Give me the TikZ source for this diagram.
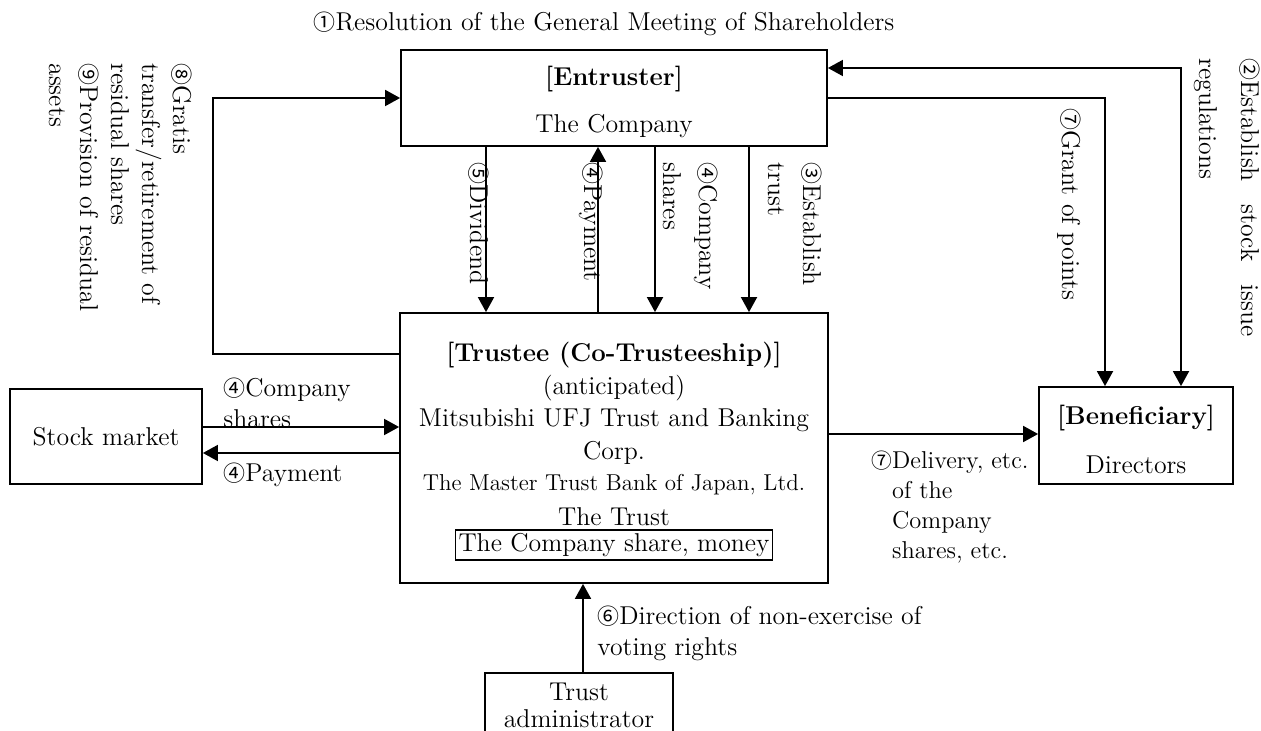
\documentclass[tikz,border=0pt]{standalone}
\usepackage{fontspec}
\newfontfamily\cjk[Scale=0.85]{Noto Sans CJK JP}
\usetikzlibrary{arrows.meta,fit}
\newcommand{\cn}[1]{{\cjk #1}}
\begin{document}
\begin{tikzpicture}[x=0.5pt,y=-0.5pt,
  every node/.style={font=\fontsize{12.9}{15.5}\selectfont, inner sep=0pt},
  box/.style={draw, line width=0.9pt, inner sep=0pt},
  arr/.style={line width=0.9pt, -{Triangle[length=7.5pt,width=8pt]}},
  darr/.style={line width=0.9pt, {Triangle[length=7.5pt,width=8pt]}-{Triangle[length=7.5pt,width=8pt]}},
  vlab/.style={rotate=-90, anchor=north west, align=left},
  hlab/.style={align=left}]
\useasboundingbox (0,0) rectangle (1261,731);
\clip (0,0) rectangle (1261,731);
% boxes
\node[box, fit={(401,50) (827,146)}] (ent) {};
\node[box, fit={(400,313) (828,583)}] (tru) {};
\node[box, fit={(10,389) (202,484)}] (stk) {};
\node[box, fit={(1039,387) (1233,484)}] (ben) {};
\node[box, fit={(485,673) (673,760)}] (adm) {};
% title
\node (title) at (604,24) {\cn{①}Resolution of the General Meeting of Shareholders};
% entruster text
\node (entA) at (614,79) {\bfseries [Entruster]};
\node (entB) at (614,126) {The Company};
% trustee text
\node (truA) at (614,355) {\bfseries [Trustee (Co-Trusteeship)]};
\node (truB) at (614,388) {(anticipated)};
\node (truC) at (614,420) {Mitsubishi UFJ Trust and Banking};
\node (truD) at (614,453) {Corp.};
\node[font=\fontsize{11.5}{14}\selectfont] (truE) at (614,485) {The Master Trust Bank of Japan, Ltd.};
\node (truF) at (614,517) {The Trust};
\node[draw, line width=0.9pt, inner sep=1.5pt] (truG) at (614,545) {The Company share, money};
% other text
\node (stkA) at (106,437) {Stock market};
\node (benA) at (1136,418) {\bfseries [Beneficiary]};
\node (benB) at (1136,465) {Directors};
\node (admA) at (579,692) {Trust};
\node (admB) at (579,719) {administrator};
% column coordinates
\coordinate (c5) at (486,0);
\coordinate (c4p) at (598,0);
\coordinate (c4c) at (655,0);
\coordinate (c3) at (749,0);
\draw[arr] (c5 |- ent.south) -- (c5 |- tru.north);
\draw[arr] (c4p |- tru.north) -- (c4p |- ent.south);
\draw[arr] (c4c |- ent.south) -- (c4c |- tru.north);
\draw[arr] (c3 |- ent.south) -- (c3 |- tru.north);
\node[vlab] (l5) at (489,162) {\cn{⑤}Dividend};
\node[vlab] (l4p) at (603,162) {\cn{④}Payment};
\node[vlab, font=\fontsize{12.9}{18}\selectfont] (l4c) at (718,162) {\cn{④}Company\\shares};
\node[vlab, font=\fontsize{12.9}{17.5}\selectfont] (l3) at (822,162) {\cn{③}Establish\\trust};
% left loop
\coordinate (lb) at (213,354);
\coordinate (lt) at (213,98);
\draw[arr] (lb -| tru.west) -- (lb) -- (lt) -- (lt -| ent.west);
\node[vlab] (l89) at (192,63) {\cn{⑧}Gratis\\transfer/retirement of\\residual shares\\\cn{⑨}Provision of residual\\assets};
% right paths
\coordinate (r2) at (1181,68);
\coordinate (r7) at (1105,98);
\draw[darr] (r2 -| ent.east) -- (r2) -- (r2 |- ben.north);
\draw[arr] (r7 -| ent.east) -- (r7) -- (r7 |- ben.north);
\node[vlab] (l7g) at (1081,108) {\cn{⑦}Grant of points};
\node[vlab, font=\fontsize{12.9}{21}\selectfont] (l2) at (1260,58) {\makebox[139pt][s]{\cn{②}Establish stock issue}\\regulations};
% delivery
\coordinate (dl) at (0,434);
\draw[arr] (dl -| tru.east) -- (dl -| ben.west);
\node[hlab, anchor=north west, font=\fontsize{12.2}{15}\selectfont] (l7d) at (871,451) {\cn{⑦}Delivery, etc.\\\phantom{\cn{⑦}}of the\\\phantom{\cn{⑦}}Company\\\phantom{\cn{⑦}}shares, etc.};
% stock market
\coordinate (s1) at (0,427);
\coordinate (s2) at (0,453);
\draw[arr] (s1 -| stk.east) -- (s1 -| tru.west);
\draw[arr] (s2 -| tru.west) -- (s2 -| stk.east);
\node[hlab, anchor=north west] (l4s) at (223,378) {\cn{④}Company\\shares};
\node[anchor=west] (l4pay) at (223,475) {\cn{④}Payment};
% trust admin
\coordinate (a6) at (583,0);
\draw[arr] (a6 |- adm.north) -- (a6 |- tru.south);
\node[hlab, anchor=north west] (l6) at (597,606) {\cn{⑥}Direction of non-exercise of\\voting rights};
\end{tikzpicture}
\end{document}
